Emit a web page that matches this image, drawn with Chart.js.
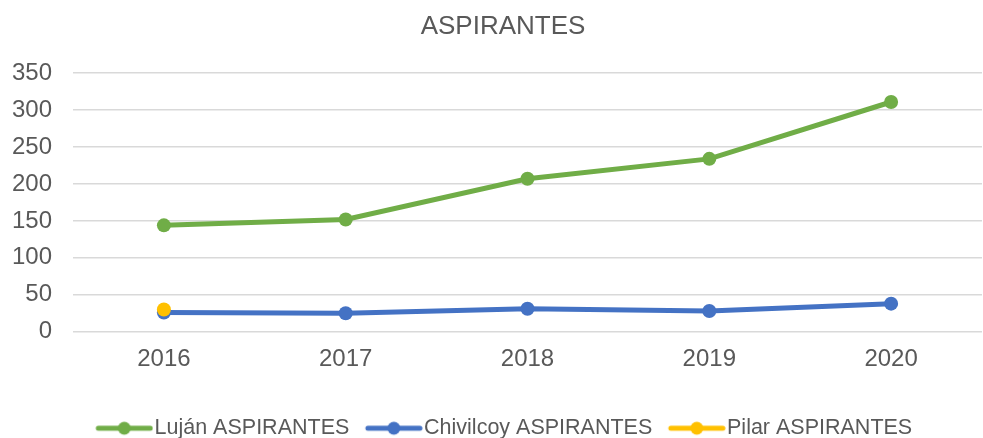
<!DOCTYPE html>
<html lang="es">
<head>
    <meta charset="UTF-8">
    <title>ASPIRANTES</title>
    <script src="https://cdn.jsdelivr.net/npm/chart.js"></script>
    <style>
        body { margin: 0; padding: 0; background: white; }
        #wrap { width: 983px; height: 438px; }
    </style>
</head>
<body>
    <div id="wrap"><canvas id="grafico"></canvas></div>
    <script>
        const anios = ['2016', '2017', '2018', '2019', '2020'];
        const lujan = [144, 152, 207, 234, 311];
        const chivilcoy = [26, 25, 31, 28, 38];
        const pilar = [30, null, null, null, null];

        const gris = '#595959';
        const fuente = 'Liberation Sans, Arial, sans-serif';

        // icono de leyenda: linea con punto al medio (corrido a la derecha para pegarlo al texto)
        function iconoLeyenda(color) {
            const c = document.createElement('canvas');
            c.width = 67; c.height = 16;
            const ctx = c.getContext('2d');
            ctx.strokeStyle = color;
            ctx.lineWidth = 5;
            ctx.lineCap = 'round';
            ctx.beginPath(); ctx.moveTo(12, 8); ctx.lineTo(64, 8); ctx.stroke();
            ctx.fillStyle = color;
            ctx.beginPath(); ctx.arc(38, 8, 6.5, 0, Math.PI * 2); ctx.fill();
            return c;
        }

        const serie = (label, data, color, orden) => ({
            label, data,
            borderColor: color,
            backgroundColor: color,
            borderWidth: 5,
            pointStyle: 'circle',
            pointRadius: 7,
            pointHoverRadius: 7,
            pointBorderWidth: 0,
            order: orden
        });

        // en el original el titulo y la leyenda quedan algo corridos a la derecha
        const correrCajas = {
            id: 'correrCajas',
            afterLayout(chart) {
                chart.titleBlock.left += 12; chart.titleBlock.right += 12;
                chart.legend.left += 13; chart.legend.right += 13;
            }
        };

        new Chart(document.getElementById('grafico'), {
            type: 'line',
            data: {
                labels: anios,
                datasets: [
                    serie('Luján ASPIRANTES', lujan, '#70AD47', 3),
                    serie('Chivilcoy ASPIRANTES', chivilcoy, '#4472C4', 2),
                    serie('Pilar ASPIRANTES', pilar, '#FFC000', 1)
                ]
            },
            options: {
                responsive: true,
                maintainAspectRatio: false,
                animation: false,
                layout: { autoPadding: false, padding: { left: 0, right: 1, top: 0, bottom: -11 } },
                plugins: {
                    title: {
                        display: true,
                        text: 'ASPIRANTES',
                        color: gris,
                        font: { family: fuente, size: 26, weight: 'normal' },
                        padding: { top: 11, bottom: 31 }
                    },
                    legend: {
                        position: 'bottom',
                        labels: {
                            color: gris,
                            font: { family: fuente, size: 21.5 },
                            usePointStyle: true,
                            pointStyleWidth: 48,
                            padding: 16,
                            generateLabels: (chart) => chart.data.datasets.map((ds, i) => ({
                                text: ds.label,
                                pointStyle: iconoLeyenda(ds.borderColor),
                                fillStyle: ds.borderColor,
                                strokeStyle: ds.borderColor,
                                fontColor: gris,
                                lineWidth: 0,
                                hidden: false,
                                datasetIndex: i
                            }))
                        }
                    },
                    tooltip: { enabled: false }
                },
                scales: {
                    x: {
                        offset: true,
                        grid: { display: false, drawTicks: false },
                        border: { display: false },
                        ticks: { color: gris, font: { family: fuente, size: 24 }, padding: 13 },
                        afterFit: (s) => { s.height += 15; }
                    },
                    y: {
                        min: 0,
                        max: 350,
                        grid: { color: '#d9d9d9', lineWidth: 1.5, drawTicks: false },
                        border: { display: false },
                        ticks: { stepSize: 50, color: gris, font: { family: fuente, size: 24 }, padding: 21 },
                        afterFit: (s) => { s.width = 73; }
                    }
                }
            },
            plugins: [correrCajas]
        });
    </script>
</body>
</html>
